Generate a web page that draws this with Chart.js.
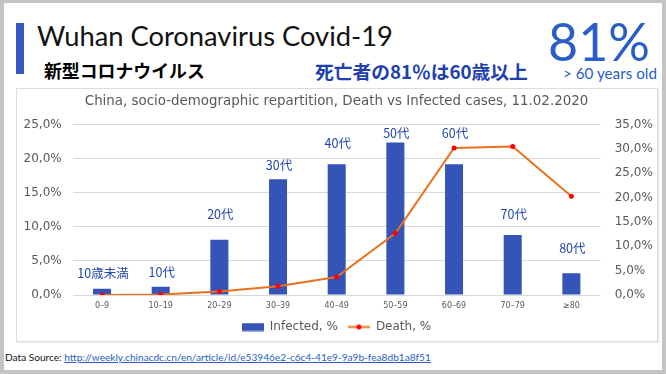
<!DOCTYPE html>
<html><head><meta charset="utf-8">
<script src="https://cdn.jsdelivr.net/npm/chart.js@4/dist/chart.umd.min.js"></script>
<style>
html,body{margin:0;padding:0;}
body{width:666px;height:374px;background:#c4c4c4;position:relative;overflow:hidden;font-family:Lato,"Noto Sans CJK JP",sans-serif;}
#slide{position:absolute;left:4px;top:3px;width:658px;height:367px;background:#fff;}
.abs{position:absolute;white-space:nowrap;line-height:1;}
#bar{left:16px;top:23px;width:8px;height:51px;background:#3656c0;}
#title{color:#111;font-family:Lato,sans-serif;font-size:30px;}
#sub{color:#000;font-family:"Noto Sans CJK JP";font-weight:700;font-size:18px;}
#blue{color:#1d40ad;font-family:"Noto Sans CJK JP";font-weight:700;font-size:17px;}
#big{color:#2a5ec6;font-family:Lato,sans-serif;font-size:60px;}
#old{color:#2a5ec6;font-family:Lato,sans-serif;font-size:13px;}
#src{color:#111;font-family:Lato,sans-serif;font-size:11px;}
#src a{color:#2a5ec6;text-decoration:underline;}
#box{left:16px;top:88px;width:640px;height:252px;border:1px solid #dcdcdc;box-shadow:1px 1px 1px #ececec;background:#fff;}
#cv{position:absolute;left:16px;top:88px;}
</style></head>
<body>
<div id="slide"></div>
<div id="bar" class="abs"></div>
<div id="title" class="abs">Wuhan Coronavirus Covid-19</div>
<div id="sub" class="abs">新型コロナウイルス</div>
<div id="blue" class="abs">死亡者の81％は60歳以上</div>
<div id="big" class="abs">81%</div>
<div id="old" class="abs">&gt; 60 years old</div>
<div id="box" class="abs"></div>
<canvas id="cv" width="641" height="257"></canvas>
<div id="src" class="abs">Data Source: <a>http://weekly.chinacdc.cn/en/article/id/e53946e2-c6c4-41e9-9a9b-fea8db1a8f51</a></div>
<script>
const chartTitle = 'China, socio-demographic repartition, Death vs Infected cases, 11.02.2020';
const categories = ['0–9','10–19','20–29','30–39','40–49','50–59','60–69','70–79','≥80'];
const infected = [0.9, 1.2, 8.1, 17.0, 19.2, 22.4, 19.2, 8.8, 3.2];
const death = [0.0, 0.1, 0.7, 1.8, 3.7, 12.7, 30.2, 30.5, 20.3];
const barLabels = ['10歳未満','10代','20代','30代','40代','50代','60代','70代','80代'];
const barLabelY = [3.2, 3.3, 11.8, 19.1, 22.3, 23.8, 23.8, 11.8, 6.8];
const leftTicks = ['0,0%','5,0%','10,0%','15,0%','20,0%','25,0%'];
const rightTicks = ['0,0%','5,0%','10,0%','15,0%','20,0%','25,0%','30,0%','35,0%'];
const seriesNames = ['Infected, %','Death, %'];

const BLUE = '#3454b8', ORANGE = '#e8721c', RED = '#ff0000', GRAY = '#595959';

function place(id, left, width, cy){
  const el = document.getElementById(id);
  const w = el.getBoundingClientRect().width;
  const fs = parseFloat(getComputedStyle(el).fontSize);
  el.style.fontSize = (fs*width/w) + 'px';
  el.style.left = left + 'px';
  const h = el.getBoundingClientRect().height;
  el.style.top = (cy - h/2) + 'px';
}
place('title', 37, 356, 36);
place('sub', 44, 161, 71);
place('blue', 315, 213, 71);
place('big', 548, 102, 41);
place('old', 563, 94, 74);
place('src', 5, 426, 357);

function icon(kind){
  const c = document.createElement('canvas'); c.width = 22; c.height = 9;
  const x = c.getContext('2d');
  if (kind === 'bar'){ x.fillStyle = BLUE; x.fillRect(0,0.5,22,8); }
  else { x.strokeStyle = ORANGE; x.lineWidth = 2; x.beginPath(); x.moveTo(0,4.5); x.lineTo(22,4.5); x.stroke();
    x.fillStyle = RED; x.beginPath(); x.arc(11,4.5,2.5,0,Math.PI*2); x.fill(); }
  return c;
}
const icons = [icon('bar'), icon('line')];

const labelPlugin = {
  id: 'barLabels',
  afterDatasetsDraw(chart){
    const {ctx, scales:{x, y}} = chart;
    ctx.save();
    ctx.font = '12.5px "Noto Sans CJK JP"';
    ctx.fillStyle = '#2146b0';
    ctx.textAlign = 'center'; ctx.textBaseline = 'middle';
    barLabels.forEach((t,i) => ctx.fillText(t, x.getPixelForValue(i) + 1, y.getPixelForValue(barLabelY[i])));
    ctx.restore();
  }
};

new Chart(document.getElementById('cv'), {
  data: {
    labels: categories,
    datasets: [
      {type:'bar', label: seriesNames[0], data: infected, backgroundColor: BLUE, yAxisID:'y', order:1,
       barPercentage:0.307, categoryPercentage:1},
      {type:'line', label: seriesNames[1], data: death, borderColor: ORANGE, borderWidth:2, yAxisID:'y1', order:0,
       pointRadius:2.5, pointBackgroundColor: RED, pointBorderWidth:0, tension:0}
    ]
  },
  options: {
    responsive:false, animation:false, devicePixelRatio:1,
    layout:{padding:{left:0,right:0,top:0,bottom:2}},
    plugins:{
      title:{display:true, text:chartTitle, color:GRAY, font:{family:'DejaVu Sans', size:13.4, weight:'normal'}, padding:{top:5,bottom:15.6}},
      legend:{position:'bottom', labels:{usePointStyle:true, pointStyleWidth:22, boxHeight:9, color:GRAY,
        font:{family:'DejaVu Sans', size:12}, padding:10,
        generateLabels: () => seriesNames.map((n,i) => ({text:n, pointStyle:icons[i], datasetIndex:i, fontColor:GRAY, lineWidth:0, strokeStyle:'rgba(0,0,0,0)', fillStyle:'rgba(0,0,0,0)'}))}},
      tooltip:{enabled:false}
    },
    scales:{
      x:{grid:{display:false, drawTicks:false}, border:{display:false},
         ticks:{color:GRAY, font:{family:'DejaVu Sans', size:8}, padding:6, maxRotation:0, autoSkip:false},
         afterFit(s){ s.height = 16; }},
      y:{position:'left', min:0, max:25, ticks:{stepSize:5, callback:(v,i)=>leftTicks[i], padding:11, color:GRAY, font:{family:'DejaVu Sans', size:12}},
         grid:{color:'#d9d9d9', drawTicks:false}, border:{display:false}, afterFit(s){ s.width = 56.7; }},
      y1:{position:'right', min:0, max:35, ticks:{stepSize:5, callback:(v,i)=>rightTicks[i], padding:14, color:GRAY, font:{family:'DejaVu Sans', size:12}},
         grid:{display:false, drawTicks:false}, border:{display:false}, afterFit(s){ s.width = 56.3; }}
    }
  },
  plugins:[labelPlugin]
});
</script>
</body></html>
